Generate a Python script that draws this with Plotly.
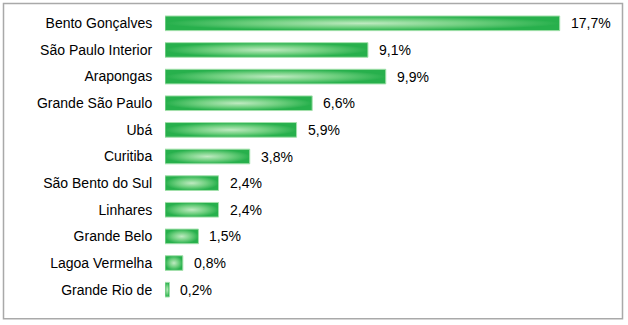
import plotly.graph_objects as go

# Share by furniture cluster (%)
regions = [
    "Bento Gonçalves", "São Paulo Interior", "Arapongas", "Grande São Paulo",
    "Ubá", "Curitiba", "São Bento do Sul", "Linhares", "Grande Belo",
    "Lagoa Vermelha", "Grande Rio de",
]
shares = [17.7, 9.1, 9.9, 6.6, 5.9, 3.8, 2.4, 2.4, 1.5, 0.8, 0.2]

BAR_H = 0.55
EDGE = "#27b04c"
CENTER = "#bfeac1"
FONT = "Liberation Sans, Arial, Helvetica, sans-serif"

fig = go.Figure()

for i, (name, v) in enumerate(zip(regions, shares)):
    y0, y1 = i - BAR_H / 2, i + BAR_H / 2
    fig.add_trace(go.Scatter(
        x=[0, v, v, 0, 0],
        y=[y0, y0, y1, y1, y0],
        mode="lines",
        fill="toself",
        fillgradient=dict(type="radial",
                          colorscale=[[0, CENTER], [0.55, "#6fcf7f"], [1, EDGE]]),
        line=dict(color="#a3e0ab", width=1),
        hoverinfo="skip",
        showlegend=False,
    ))

for i, v in enumerate(shares):
    fig.add_annotation(
        x=v, y=i, text=f"{v:.1f}%".replace(".", ","),
        xanchor="left", yanchor="middle", xshift=9, showarrow=False,
        font=dict(family=FONT, size=14, color="#000000"),
    )

# Outer frame around the chart
fig.add_shape(
    type="rect", xref="paper", yref="paper",
    x0=(3.5 - 165) / 446, x1=(622.5 - 165) / 446,
    y0=(303.3 - 319) / 293.3, y1=(303.3 - 3.5) / 293.3,
    line=dict(color="#a9a9a9", width=1.5), fillcolor="rgba(0,0,0,0)",
    layer="below",
)

fig.update_layout(
    width=628, height=325,
    margin=dict(l=165, r=17, t=10, b=21.7),
    paper_bgcolor="white", plot_bgcolor="white",
    font=dict(family=FONT, size=14, color="#000000"),
    xaxis=dict(range=[0, 20], visible=False, fixedrange=True),
    yaxis=dict(
        range=[10.5, -0.5],
        tickmode="array", tickvals=list(range(len(regions))), ticktext=regions,
        ticks="outside", ticklen=9, tickcolor="rgba(0,0,0,0)",
        showgrid=False, zeroline=False, showline=False, fixedrange=True,
        tickfont=dict(family=FONT, size=14, color="#000000"),
    ),
)

fig.write_html("out.html")
